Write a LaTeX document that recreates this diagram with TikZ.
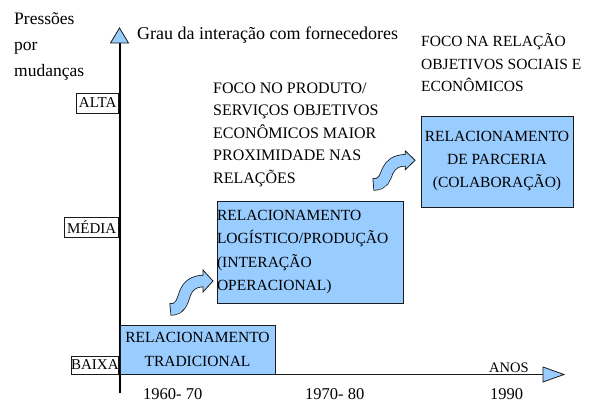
\documentclass[tikz,border=0pt]{standalone}
\usepackage{fontspec}
\setmainfont{Liberation Serif}
\definecolor{boxblue}{HTML}{99CCFF}
\definecolor{edge}{HTML}{1A1A1A}
\tikzset{
  fs/.style={font=\fontsize{#1}{#1}\selectfont},
  bluebox/.style={draw=edge, fill=boxblue, line width=0.9pt, inner sep=0pt},
  lvl/.style={draw=edge, line width=0.7pt, inner sep=0pt, minimum height=20pt,
              fs=15, anchor=east},
  para/.style={font=\fontsize{16}{22.5}\selectfont, align=left, inner sep=0pt, anchor=base west},
  plain/.style={inner sep=0pt, anchor=base west},
  axishead/.style={fill=boxblue, draw=edge, line width=0.8pt, line join=miter},
  pics/swoosh/.style={code={
    \path[draw=edge, line width=12.4pt]
      (0,0) .. controls (11,0) and (12,-8) .. (15,-16)
            .. controls (18,-24) and (24,-28.5) .. (34,-28.5);
    \filldraw[axishead] (33,-39.5) -- (43,-28.5) -- (33,-17.5) -- cycle;
    \path[draw=boxblue, line width=10.8pt, shorten <=0.8pt]
      (0,0) .. controls (11,0) and (12,-8) .. (15,-16)
            .. controls (18,-24) and (24,-28.5) .. (34,-28.5);
  }}
}
\begin{document}
\begin{tikzpicture}[x=1pt, y=-1pt]
  \useasboundingbox (0,0) rectangle (589,403);
  % axes
  \coordinate (origin) at (120,374);
  \coordinate (ytop) at (120,43);
  \coordinate (ybot) at (120,393);
  \coordinate (xend) at (543,374);
  \draw[edge, line width=0.8pt] (origin) -- (xend);
  \filldraw[axishead] (543,367) -- (564,374.5) -- (543,382) -- cycle;
  \draw[black, line width=2pt] (ybot) -- (ytop);
  \filldraw[axishead] (110.5,43) -- (119.5,28) -- (128.5,43) -- cycle;

  % axis titles
  \node[plain, fs=17.5] (p1) at (14,25) {Pressões};
  \node[plain, fs=17.5] (p2) at (14,51) {por};
  \node[plain, fs=17.5] (p3) at (14,77) {mudanças};
  \node[plain, fs=18] (grau) at (137,40) {Grau da interação com fornecedores};
  \node[plain, fs=14.5] (anos) at (489,372) {ANOS};

  % levels
  \node[lvl, minimum width=42pt] (alta) at (119,103) {ALTA};
  \node[lvl, minimum width=54pt] (media) at (119,227.5) {MÉDIA};
  \node[lvl, minimum width=45pt, minimum height=18pt] (baixa) at (119,365) {BAIXA};

  % years
  \node[plain, fs=16.5] (y1) at (143,399.5) {1960- 70};
  \node[plain, fs=16.5] (y2) at (305,399.5) {1970- 80};
  \node[plain, fs=16.5] (y3) at (490,399.5) {1990};

  % boxes
  \node[bluebox, minimum width=155pt, minimum height=49pt, align=center,
        font=\fontsize{15.5}{24}\selectfont] (trad) at (197.5,349.5)
        {RELACIONAMENTO\\TRADICIONAL};
  \node[bluebox, minimum width=186pt, minimum height=102pt, text width=186pt, align=left,
        font=\fontsize{15.5}{23.3}\selectfont] (logi) at (310,252)
        {RELACIONAMENTO\\LOGÍSTICO/PRODUÇÃO\\(INTERAÇÃO\\OPERACIONAL)};
  \node[bluebox, minimum width=152pt, minimum height=91pt, align=center,
        font=\fontsize{15.5}{23}\selectfont] (parc) at (497,161.5)
        {RELACIONAMENTO\\DE PARCERIA\\(COLABORAÇÃO)};

  % descriptive texts (base anchor = last line)
  \node[para] (foco1) at (213,183.5)
    {FOCO NO PRODUTO/\\SERVIÇOS OBJETIVOS\\ECONÔMICOS MAIOR\\PROXIMIDADE NAS\\RELAÇÕES};
  \node[para, font=\fontsize{15.5}{22.75}\selectfont] (foco2) at (421,92)
    {FOCO NA RELAÇÃO\\OBJETIVOS SOCIAIS E\\ECONÔMICOS};

  % curved arrows
  \pic at (170,309.5) {swoosh};
  \pic[xscale=0.98, yscale=0.85] at (373,184.5) {swoosh};
\end{tikzpicture}
\end{document}
